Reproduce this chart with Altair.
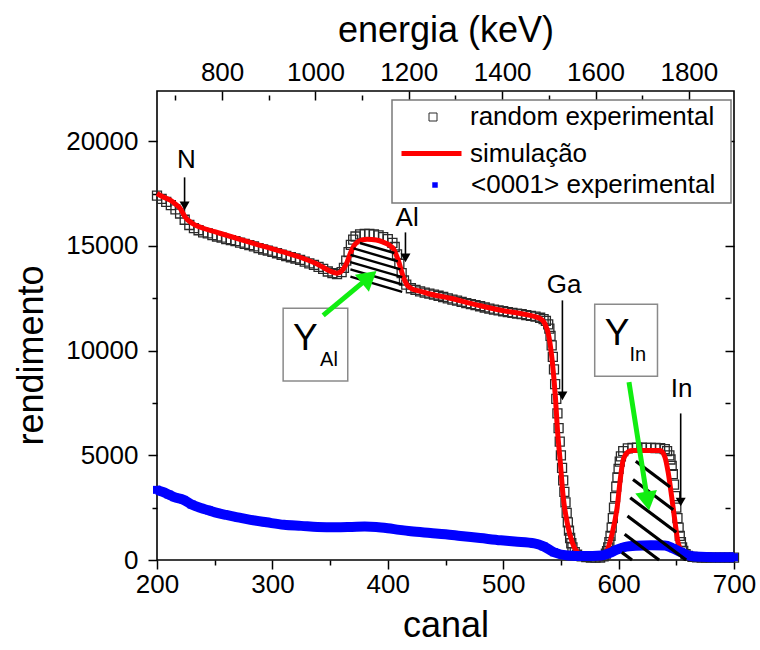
import math
import altair as alt
import numpy as np
import pandas as pd

FONT = "Liberation Sans"
W, H = 577, 469
X_DOM = [200, 700]
Y_DOM = [0, 22400]
E_DOM = [660.6, 1896.7]          # energy (keV) at canal 200 and 700
SX = W / (X_DOM[1] - X_DOM[0])   # px per canal
SY = H / (Y_DOM[1] - Y_DOM[0])   # px per count

# ---- random experimental spectrum ----
exp_canal = [200, 204, 208, 212, 216, 220, 224, 228, 232, 236, 240, 244, 248, 252, 256, 260,
             264, 268, 272, 276, 280, 284, 288, 292, 296, 300, 304, 308, 312, 316, 320, 324,
             328, 332, 336, 340, 344, 348, 352, 356, 360, 362, 364, 366, 368, 370, 372, 376,
             380, 384, 388, 392, 396, 400, 404, 406, 408, 410, 412, 414, 416, 420, 424, 428,
             432, 436, 440, 444, 448, 452, 456, 460, 464, 468, 472, 476, 480, 484, 488, 492,
             496, 500, 504, 508, 512, 516, 520, 524, 528, 532, 535, 537, 539, 540, 541, 542,
             543, 544, 545, 546, 547, 548, 549, 550, 551, 552, 553, 554, 555, 556, 557, 558,
             559, 560, 562, 564, 568, 572, 576, 580, 584, 587, 589, 590, 591, 592, 593, 594,
             595, 596, 597, 598, 599, 600, 601, 602, 604, 608, 612, 616, 620, 624, 628, 632,
             636, 640, 642, 644, 645, 646, 647, 648, 649, 650, 651, 652, 653, 654, 655, 656,
             658, 660, 664, 668, 672, 676, 680, 684, 688, 692, 696, 700]
exp_counts = [17400, 17250, 17100, 16950, 16750, 16550, 16250, 16000, 15850, 15750, 15650, 15600,
              15520, 15450, 15400, 15330, 15280, 15230, 15160, 15100, 15040, 14980, 14900, 14830,
              14780, 14720, 14650, 14580, 14520, 14460, 14400, 14330, 14250, 14170, 14100, 14000,
              13900, 13780, 13700, 13650, 13750, 13950, 14300, 14700, 15050, 15300, 15450, 15550,
              15580, 15570, 15550, 15500, 15420, 15330, 15150, 14950, 14600, 14150, 13700, 13350,
              13150, 12980, 12900, 12830, 12770, 12720, 12670, 12620, 12560, 12500, 12440, 12390,
              12330, 12270, 12220, 12170, 12120, 12060, 12010, 11960, 11920, 11880, 11840, 11800,
              11770, 11740, 11700, 11660, 11620, 11570, 11500, 11420, 11250, 11050, 10700, 10250,
              9700, 9100, 8400, 7700, 7000, 6300, 5650, 5000, 4400, 3800, 3250, 2750,
              2250, 1800, 1400, 1050, 800, 600, 380, 250, 170, 140, 120, 115,
              120, 180, 300, 420, 600, 850, 1150, 1550, 2000, 2500, 3000, 3500,
              3950, 4350, 4700, 4950, 5200, 5330, 5360, 5370, 5370, 5360, 5360, 5350,
              5340, 5300, 5200, 5000, 4800, 4500, 4100, 3600, 3050, 2500, 2000, 1550,
              1150, 850, 600, 430, 280, 200, 150, 130, 120, 120, 115, 115,
              115, 110, 110, 110]

# ---- simulated spectrum ----
sim_canal = [200, 205, 211.5, 216, 220, 224.5, 230.4, 240, 250, 266, 280, 295, 310, 324, 340,
             350, 356, 361.5, 364.5, 367.6, 370.5, 373.5, 378, 382, 390, 396, 401, 405, 409,
             413.6, 416.5, 420, 427, 434, 454, 476, 498, 515, 532, 538, 542.6, 545.2, 547,
             549.5, 552, 555.5, 560, 565, 573, 585, 590, 594.5, 598.8, 601.4, 604, 608.8,
             612, 636, 640, 643, 646, 649, 651.6, 656, 664.5, 680, 700]
sim_counts = [17505, 17350, 17185, 17000, 16800, 16370, 16085, 15845, 15680, 15415, 15180,
              14940, 14700, 14460, 14100, 13800, 13700, 13900, 14200, 14650, 15000, 15180,
              15290, 15320, 15280, 15180, 15050, 14850, 14320, 13500, 13150, 12980, 12850,
              12740, 12500, 12200, 11925, 11770, 11530, 11030, 9440, 7810, 6230, 4650, 3020,
              1770, 815, 335, 145, 110, 450, 1290, 2540, 3835, 4790, 5180, 5230, 5230, 4940,
              4170, 3020, 1770, 815, 335, 145, 110, 105]

# ---- <0001> aligned spectrum ----
ch_canal = [200, 205, 210, 215, 223, 230, 238, 245, 252, 260, 270, 281, 295, 310, 325, 339,
            355, 369, 380, 390, 400, 410, 420, 437, 450, 463, 480, 498, 510, 527, 535, 544,
            556, 570, 585, 592, 598, 605, 615, 628, 640, 647, 654, 662, 671, 685, 700]
ch_counts = [3350, 3250, 3130, 3000, 2870, 2650, 2480, 2370, 2250, 2150, 2040, 1920, 1800,
             1680, 1630, 1580, 1560, 1580, 1600, 1580, 1520, 1440, 1370, 1290, 1230, 1150,
             1050, 940, 880, 790, 650, 370, 215, 190, 215, 330, 480, 620, 680, 700, 690,
             560, 380, 200, 150, 135, 130]

# ---- element markers ----
lab_text = ["N", "Al", "Ga", "In"]
lab_canal = [225.4, 416.8, 552.8, 654.6]
lab_counts = [19100, 16350, 13115, 8146]
arr_tail_canal = [223.9, 415.3, 551.3, 653.8]
arr_tail_counts = [18275, 15647, 12399, 7000]
arr_tip_canal = [223.9, 415.3, 551.3, 653.8]
arr_tip_counts = [16650, 14166, 7573, 2508]

# ---- yield boxes ----
box_c1 = [309.3, 579.3]
box_c2 = [365.3, 633.7]
box_v1 = [8547, 8772]
box_v2 = [12022, 12213]
y_canal = [328.6, 598.8]
y_counts = [10559, 10775]
sub_text = ["Al", "In"]
sub_canal = [349.0, 616.6]
sub_counts = [9556, 9771]
g_tail_canal = [344.0, 609.0]
g_tail_counts = [11682, 8495]
g_tip_canal = [390.2, 626.4]
g_tip_counts = [13799, 2365]

SERIES = ["random experimental", "simulação", "<0001> experimental"]


def red_at(c):
    return np.interp(c, sim_canal, sim_counts)


def clip_runs(cs, vs, mask):
    """Contiguous inside-runs of a sampled line, returned as segments."""
    segs = []
    edges = np.flatnonzero(np.diff(np.concatenate([[0], mask.astype(int), [0]])))
    for a, b in zip(edges[::2], edges[1::2]):
        if b - a > 2:
            segs.append((cs[a], vs[a], cs[b - 1], vs[b - 1]))
    return segs


hatch = []
# Al yield: lines parallel to the background line under the Al step
base_c = (367.6, 412.5)
base_v = (13530, 12810)
base_slope = (base_v[1] - base_v[0]) / (base_c[1] - base_c[0])
cs = np.linspace(367.6, 414, 3000)
for k in range(6):
    vs = base_v[0] + base_slope * (cs - base_c[0]) + k * 7.3 / SY
    inside = (cs <= 412.5) & (vs <= red_at(cs) - 2.0 / SY)
    for s in clip_runs(cs, vs, inside):
        hatch.append(s + (2.4,))
# In yield: diagonal lines under the In peak
c0, v0 = 601.8, 5254
slope_in = 0.75 * SX / SY
cs = np.linspace(600, 665, 4000)
for k in range(7):
    vs = v0 - k * 20.3 / SY - slope_in * (cs - c0)
    inside = (vs >= 0) & (vs <= red_at(cs) - 1.5 / SY) & (cs >= c0 + vs * 13.9 / 5000)
    for s in clip_runs(cs, vs, inside):
        hatch.append(s + (3.2,))
hatch_df = pd.DataFrame(hatch, columns=["c1", "v1", "c2", "v2", "w"])


def arrow(c0_, v0_, c1_, v1_, head_len):
    dx = (c1_ - c0_) * SX
    dy = -(v1_ - v0_) * SY
    L = math.hypot(dx, dy)
    ux, uy = dx / L, dy / L
    hc = c1_ - ux * head_len * 0.5 / SX
    hv = v1_ + uy * head_len * 0.5 / SY
    ang = math.degrees(math.atan2(ux, -uy)) % 360
    return (c0_, v0_, hc, hv), (hc, hv, ang)


blk_shaft, blk_head = [], []
for i in range(len(lab_text)):
    s, h = arrow(arr_tail_canal[i], arr_tail_counts[i], arr_tip_canal[i], arr_tip_counts[i], 11)
    blk_shaft.append(s)
    blk_head.append(h)
grn_shaft, grn_head = [], []
for i in range(2):
    s, h = arrow(g_tail_canal[i], g_tail_counts[i], g_tip_canal[i], g_tip_counts[i], 19)
    grn_shaft.append(s)
    grn_head.append(h)

blk_shaft_df = pd.DataFrame(blk_shaft, columns=["c1", "v1", "c2", "v2"])
blk_head_df = pd.DataFrame(blk_head, columns=["c", "v", "ang"])
grn_shaft_df = pd.DataFrame(grn_shaft, columns=["c1", "v1", "c2", "v2"])
grn_head_df = pd.DataFrame(grn_head, columns=["c", "v", "ang"])

exp_df = pd.DataFrame({"canal": exp_canal, "rendimento": exp_counts, "serie": SERIES[0]})
sim_df = pd.DataFrame({"canal": sim_canal, "rendimento": sim_counts, "serie": SERIES[1]})
ch_df = pd.DataFrame({"canal": ch_canal, "rendimento": ch_counts, "serie": SERIES[2]})
lab_df = pd.DataFrame({"t": lab_text, "c": lab_canal, "v": lab_counts})
box_df = pd.DataFrame({"c1": box_c1, "c2": box_c2, "v1": box_v1, "v2": box_v2})
ybig_df = pd.DataFrame({"t": ["Y", "Y"], "c": y_canal, "v": y_counts})
ysub_df = pd.DataFrame({"t": sub_text, "c": sub_canal, "v": sub_counts})


def cond_tick(test):
    return {"condition": {"test": test, "value": 9}, "value": 5}


common_axis = dict(
    grid=False, domain=False, tickColor="black", tickWidth=1.5,
    labelFont=FONT, labelFontSize=26, labelColor="black",
    labelFlush=False, labelOverlap=False, labelBound=False,
    titleFont=FONT, titleFontSize=36, titleFontWeight="normal", titleColor="black",
)

x_axis = alt.Axis(
    title="canal", orient="bottom", values=list(range(200, 701, 50)), format="d",
    labelExpr="datum.value % 100 === 0 ? datum.label : ''",
    tickSize=cond_tick("datum.value % 100 === 0"), labelPadding=2,
    titleBaseline="alphabetic", titleY=76, **common_axis)
y_axis = alt.Axis(
    title="rendimento", orient="left", values=list(range(0, 22401, 2500)), format="d",
    labelExpr="datum.value % 5000 === 0 ? datum.label : ''",
    tickSize=cond_tick("datum.value % 5000 === 0"), labelPadding=10,
    titleBaseline="alphabetic", titleX=-115, titleY=264, titleAngle=270, **common_axis)

XS = alt.Scale(domain=X_DOM, nice=False, zero=False)
YS = alt.Scale(domain=Y_DOM, nice=False, zero=False)


def X(f):
    return alt.X(f, type="quantitative", scale=XS, axis=x_axis)


def Y(f):
    return alt.Y(f, type="quantitative", scale=YS, axis=y_axis)


def legend(x, y, size, offset, **kw):
    return alt.Legend(orient="none", legendX=x, legendY=y, title=None, padding=0,
                      labelFont=FONT, labelFontSize=26, labelColor="black", labelLimit=0,
                      symbolSize=size, labelOffset=offset, **kw)


exp_layer = alt.Chart(exp_df).mark_point(
    shape="square", filled=False, size=81, strokeWidth=1.3, opacity=1
).encode(
    x=X("canal"), y=Y("rendimento"),
    color=alt.Color("serie:N", scale=alt.Scale(domain=[SERIES[0]], range=["#2a2a2a"]),
                    legend=legend(263, 13, 64, 24, symbolType="square", symbolStrokeWidth=1)),
)

sim_layer = alt.Chart(sim_df).mark_line(strokeWidth=5, interpolate="monotone").encode(
    x=X("canal"), y=Y("rendimento"),
    color=alt.Color("serie:N", scale=alt.Scale(domain=[SERIES[1]], range=["#ff0000"]),
                    legend=legend(242, 30, 3600, 6, symbolType="stroke", symbolStrokeWidth=5)),
)

ch_line = alt.Chart(ch_df).mark_line(strokeWidth=10, color="#0000ff", interpolate="monotone").encode(
    x=X("canal"), y=Y("rendimento"))
ch_pts = alt.Chart(ch_df).mark_square(size=64, opacity=1).encode(
    x=X("canal"), y=Y("rendimento"),
    color=alt.Color("serie:N", scale=alt.Scale(domain=[SERIES[2]], range=["#0000ff"]),
                    legend=legend(265, 81, 30, 23, symbolType="square")),
)

hatch_layer = alt.Chart(hatch_df).mark_rule(color="black").encode(
    x=X("c1"), y=Y("v1"), x2="c2", y2="v2", strokeWidth=alt.StrokeWidth("w:Q", scale=None))

box_layer = alt.Chart(box_df).mark_rect(fill="white", stroke="#8a8a8a", strokeWidth=1.5).encode(
    x=X("c1"), x2="c2", y=Y("v1"), y2="v2")

legend_frame = alt.Chart(pd.DataFrame({"k": [0]})).mark_rect(
    fill="white", stroke="#7a7a7a", strokeWidth=1.5
).encode(x=alt.value(235), x2=alt.value(574), y=alt.value(9), y2=alt.value(112))

lab_layer = alt.Chart(lab_df).mark_text(font=FONT, fontSize=26, color="black", baseline="middle").encode(
    x=X("c"), y=Y("v"), text="t:N")
ybig_layer = alt.Chart(ybig_df).mark_text(font=FONT, fontSize=37, color="black", baseline="middle").encode(
    x=X("c"), y=Y("v"), text="t:N")
ysub_layer = alt.Chart(ysub_df).mark_text(font=FONT, fontSize=20, color="black", baseline="middle").encode(
    x=X("c"), y=Y("v"), text="t:N")

blk_shaft_layer = alt.Chart(blk_shaft_df).mark_rule(color="black", strokeWidth=1.6).encode(
    x=X("c1"), y=Y("v1"), x2="c2", y2="v2")
blk_head_layer = alt.Chart(blk_head_df).mark_point(
    shape="triangle-up", filled=True, size=100, color="black", opacity=1
).encode(x=X("c"), y=Y("v"), angle=alt.Angle("ang:Q", scale=None))

grn_shaft_layer = alt.Chart(grn_shaft_df).mark_rule(color="#11ee11", strokeWidth=5).encode(
    x=X("c1"), y=Y("v1"), x2="c2", y2="v2")
grn_head_layer = alt.Chart(grn_head_df).mark_point(
    shape="triangle-up", filled=True, size=480, color="#11ee11", opacity=1
).encode(x=X("c"), y=Y("v"), angle=alt.Angle("ang:Q", scale=None))

inner = alt.layer(
    legend_frame, exp_layer, sim_layer, ch_line, ch_pts, hatch_layer,
    box_layer, lab_layer, ybig_layer, ysub_layer,
    blk_shaft_layer, blk_head_layer, grn_shaft_layer, grn_head_layer,
).resolve_scale(color="independent")

# energy axis on top and the mirrored count axis on the right
top_axis = alt.Axis(
    title="energia (keV)", orient="top", offset=-9, values=list(range(700, 1801, 100)), format="d",
    labelExpr="datum.value % 200 === 0 ? datum.label : ''",
    tickSize=cond_tick("datum.value % 200 === 0"), labelPadding=11, labelBaseline="alphabetic",
    titleBaseline="alphabetic", titleY=-59, **common_axis)
right_axis = alt.Axis(
    title=None, orient="right", offset=-9, values=list(range(0, 22401, 2500)), labels=False,
    tickSize=cond_tick("datum.value % 5000 === 0"), grid=False, domain=False,
    tickColor="black", tickWidth=1.5)

energy = alt.Chart(pd.DataFrame({"E": E_DOM, "v": Y_DOM})).mark_point(opacity=0).encode(
    x=alt.X("E:Q", scale=alt.Scale(domain=E_DOM, nice=False, zero=False), axis=top_axis),
    y=alt.Y("v:Q", scale=alt.Scale(domain=Y_DOM, nice=False, zero=False), axis=right_axis),
)

chart = alt.layer(inner, energy).resolve_scale(x="independent", y="independent").properties(
    width=W, height=H,
    padding={"left": 157, "top": 91, "right": 26, "bottom": 90},
    autosize=alt.AutoSizeParams(type="none"),
    background="white",
).configure_view(stroke="black", strokeWidth=1.6)

chart.save("out.html", embed_options={"renderer": "svg", "actions": False})
